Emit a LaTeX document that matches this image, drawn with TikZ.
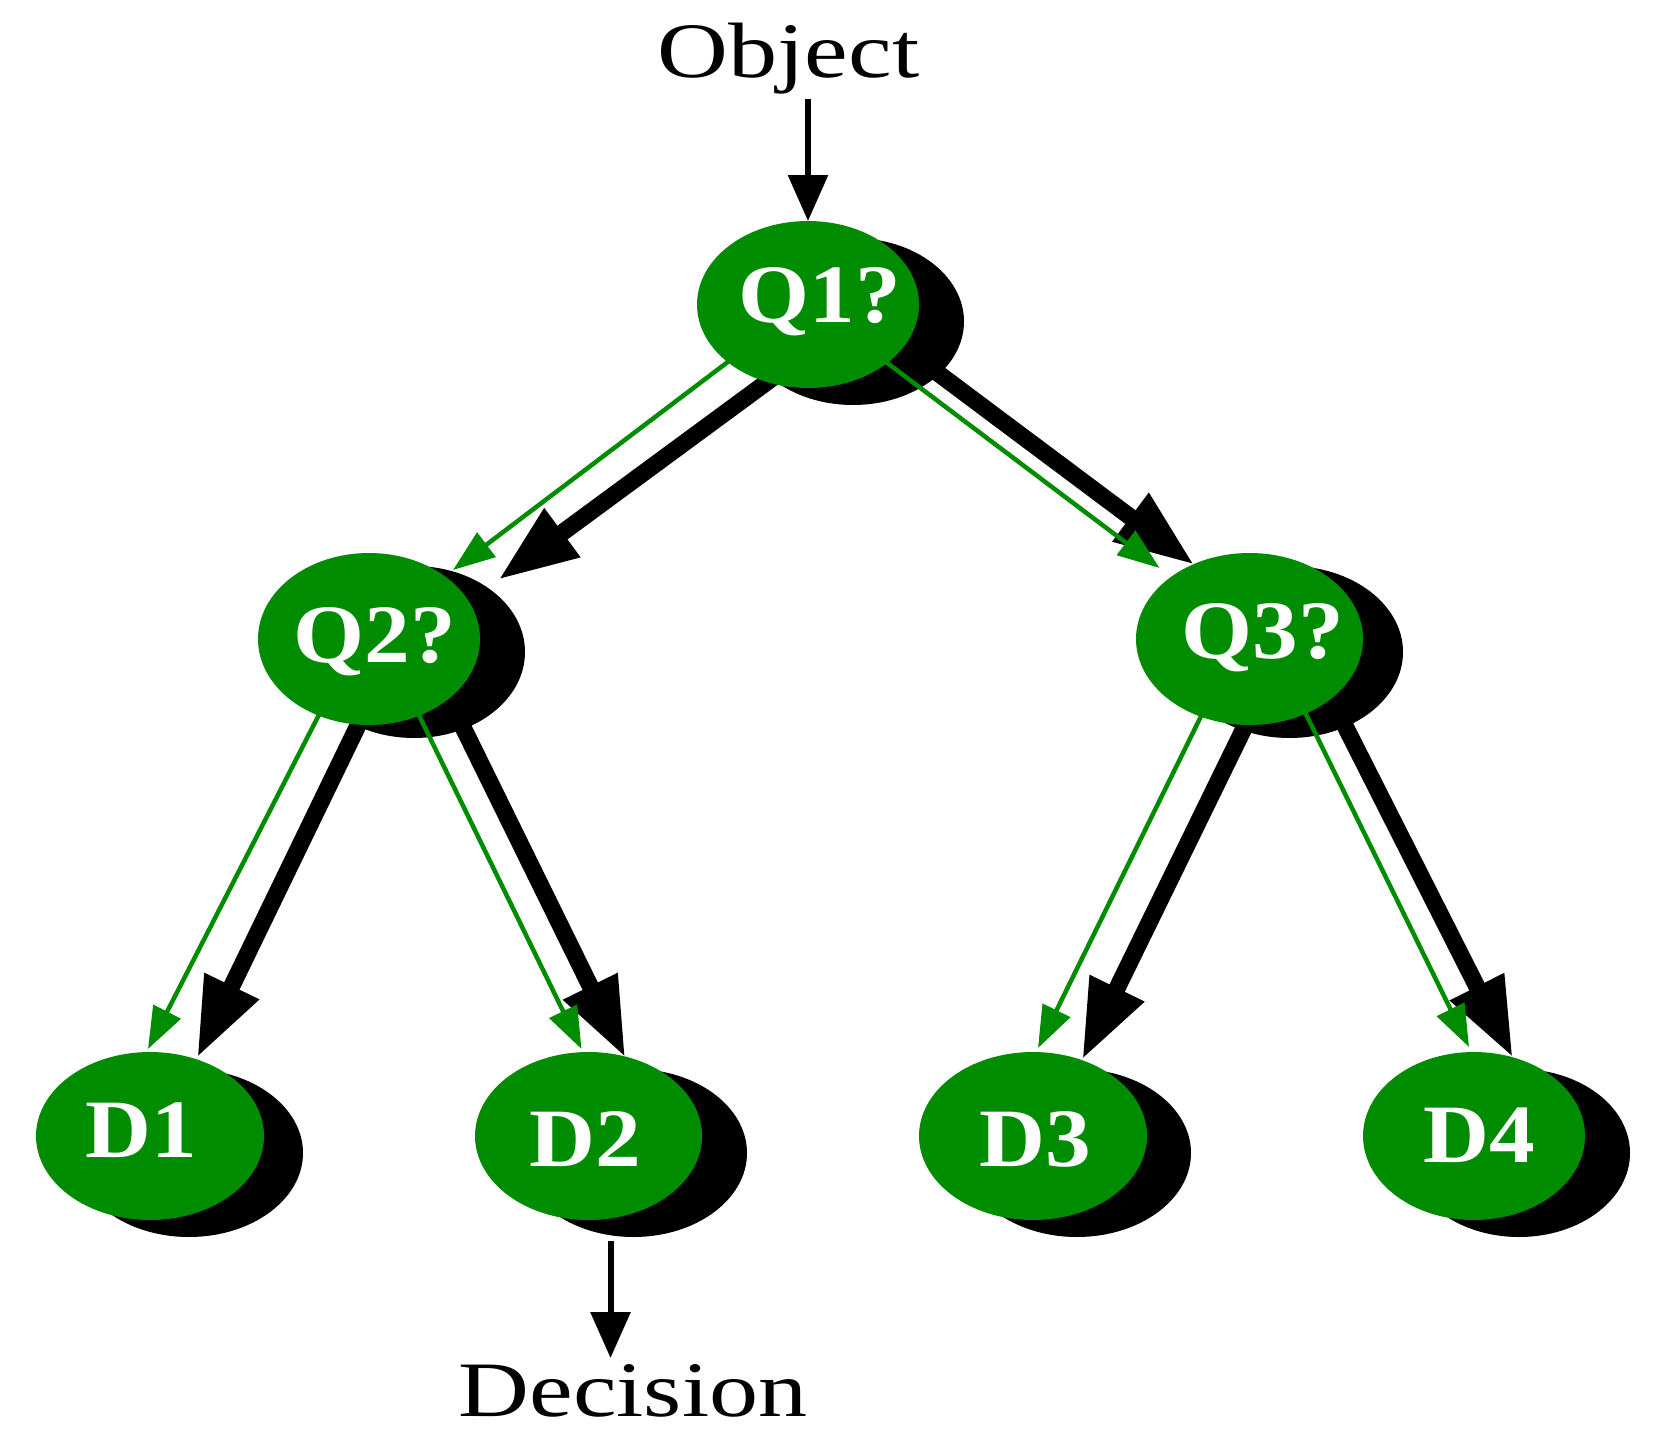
\documentclass[tikz,border=0pt]{standalone}
\usepackage{fontspec}
\setmainfont{Liberation Serif}
\usepackage{graphicx}
\usetikzlibrary{shapes.geometric,arrows.meta,calc}
\definecolor{nodegreen}{RGB}{0,140,0}
\pgfdeclarelayer{shadowlayer}
\pgfdeclarelayer{blacklayer}
\pgfdeclarelayer{greenlayer}
\pgfsetlayers{shadowlayer,blacklayer,greenlayer,main}
\newcommand{\lbl}[3]{\smash{\makebox[0pt]{\hspace*{#1}\raisebox{#2}{\scalebox{1.1}[1]{#3}}}}}
\newcommand{\wide}[1]{\scalebox{1.25}[1]{#1}}
\begin{document}
\begin{tikzpicture}[x=1pt,y=-1pt,
  gnode/.style={ellipse, fill=nodegreen, inner sep=0pt, outer sep=0pt, text=white,
    font=\fontsize{83pt}{90pt}\selectfont\bfseries},
  plain/.style={inner sep=0pt, outer sep=0pt, anchor=base,
    font=\fontsize{78.5pt}{85pt}\selectfont},
  blackarrow/.style={draw=black, line width=17pt, -{Triangle[length=80pt,width=56pt]}},
  greenarrow/.style={draw=nodegreen, line width=4.5pt, -{Triangle[length=42pt,width=30pt]}},
  smallarrow/.style={draw=black, line width=6pt, -{Triangle[length=46pt,width=39pt]}}
]
\useasboundingbox (0,0) rectangle (1656,1432);

% nodes
\node[gnode, minimum width=222pt, minimum height=167pt] (Q1) at (808,304.5) {\lbl{23pt}{-18pt}{Q1?}};
\node[gnode, minimum width=222pt, minimum height=172pt] (Q2) at (369,639) {\lbl{12pt}{-23pt}{Q2?}};
\node[gnode, minimum width=227pt, minimum height=172pt] (Q3) at (1249.5,639) {\lbl{27pt}{-19pt}{Q3?}};
\node[gnode, minimum width=228pt, minimum height=168pt] (D1) at (150,1136) {\lbl{-17pt}{-21.5pt}{D1}};
\node[gnode, minimum width=227pt, minimum height=168pt] (D2) at (588.5,1136) {\lbl{-6pt}{-30pt}{D2}};
\node[gnode, minimum width=228pt, minimum height=168pt] (D3) at (1033,1136) {\lbl{5pt}{-30pt}{D3}};
\node[gnode, minimum width=222pt, minimum height=168pt] (D4) at (1474,1136) {\lbl{11pt}{-26pt}{D4}};

\node[plain] (Object) at (788.5,77) {\wide{Object}};
\node[plain] (Decision) at (633,1416) {\wide{Decision}};

% shadows
\begin{pgfonlayer}{shadowlayer}
\foreach \n/\dx/\dy/\a/\b in {Q1/45/17/111/83.5, Q2/45/13/111/86, Q3/40/13/113.5/86,
    D1/39/17/114/84, D2/45/17/113.5/84, D3/44/17/114/84, D4/45/17/111/84}
  \fill[black] ([xshift=\dx pt,yshift=-\dy pt]\n.center) ellipse [x radius=\a pt, y radius=\b pt];
\end{pgfonlayer}

% thick black arrows
\begin{pgfonlayer}{blacklayer}
\draw[blackarrow] ($(Q1)+(-28,68)$) -- ($(Q2)+(129,-59)$);
\draw[blackarrow] ($(Q1)+(117,59)$) -- ($(Q3)+(-55,-74)$);
\draw[blackarrow] ($(Q2)+(-5,74)$) -- ($(D1)+(47,-78)$);
\draw[blackarrow] ($(Q2)+(88,76)$) -- ($(D2)+(37,-78)$);
\draw[blackarrow] ($(Q3)+(0,78)$) -- ($(D3)+(49,-76)$);
\draw[blackarrow] ($(Q3)+(91,78)$) -- ($(D4)+(39,-78)$);
\end{pgfonlayer}

% thin green arrows
\begin{pgfonlayer}{greenlayer}
\draw[greenarrow] ($(Q1)+(-73,52)$) -- ($(Q2)+(84,-69)$);
\draw[greenarrow] ($(Q1)+(72,53)$) -- ($(Q3)+(-90,-71)$);
\draw[greenarrow] ($(Q2)+(-43,62)$) -- ($(D1)+(-2,-87)$);
\draw[greenarrow] ($(Q2)+(44,64)$) -- ($(D2)+(-7,-87)$);
\draw[greenarrow] ($(Q3)+(-42,64)$) -- ($(D3)+(5,-88)$);
\draw[greenarrow] ($(Q3)+(51,64)$) -- ($(D4)+(-5,-89)$);
\end{pgfonlayer}

% input and output arrows
\coordinate (objbot) at ([yshift=-5pt]Object.south);
\draw[smallarrow] (objbot -| Q1.north) -- (Q1.north);
\coordinate (decstart) at ([xshift=22pt,yshift=-21pt]D2.south);
\coordinate (decend) at ([yshift=6pt]Decision.north);
\draw[smallarrow] (decstart) -- (decstart |- decend);
\end{tikzpicture}
\end{document}
